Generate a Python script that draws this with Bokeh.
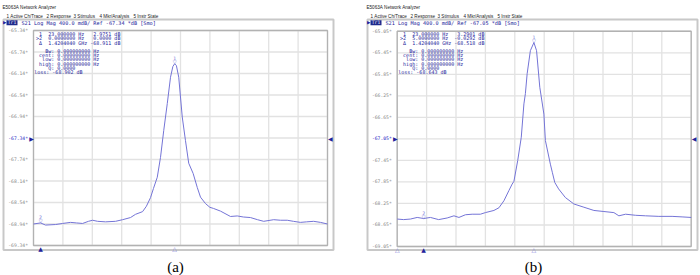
from bokeh.plotting import figure
from bokeh.models import Range1d
from bokeh.embed import file_html
from bokeh.resources import INLINE
from bokeh.core.properties import value

# ---------------- data ----------------
# x in horizontal grid divisions (0..10), y in dB
a_div = [0.00, 0.24, 0.41, 0.75, 0.99, 1.26, 1.46, 1.67, 1.87, 2.01, 2.18, 2.45, 2.79, 3.03,
         3.30, 3.47, 3.71, 3.84, 3.98, 4.08, 4.21, 4.32, 4.43, 4.55, 4.66, 4.74, 4.80, 4.86,
         4.94, 5.06, 5.17, 5.28, 5.43, 5.57, 5.68, 5.85, 6.00, 6.12, 6.36, 6.70, 6.93, 7.14,
         7.38, 7.62, 7.83, 8.17, 8.40, 8.63, 8.84, 9.08, 9.29, 9.53, 9.76, 10.00]
a_db = [-68.94, -68.92, -68.96, -68.95, -68.93, -68.91, -68.92, -68.93, -68.89, -68.87, -68.89,
        -68.90, -68.89, -68.86, -68.82, -68.76, -68.71, -68.61, -68.45, -68.28, -68.07, -67.70,
        -67.20, -66.70, -66.21, -66.01, -65.96, -65.99, -66.21, -66.95, -67.39, -67.81, -68.00,
        -68.26, -68.44, -68.56, -68.63, -68.65, -68.70, -68.80, -68.79, -68.81, -68.82, -68.86,
        -68.89, -68.86, -68.87, -68.87, -68.89, -68.91, -68.90, -68.89, -68.91, -68.94]

b_div = [0.00, 0.22, 0.45, 0.68, 0.90, 1.13, 1.41, 1.70, 1.93, 2.10, 2.32, 2.55, 2.83, 3.00,
         3.29, 3.46, 3.63, 3.80, 3.91, 3.97, 4.10, 4.22, 4.31, 4.36, 4.42, 4.53, 4.65, 4.74,
         4.85, 4.99, 5.04, 5.21, 5.28, 5.36, 5.49, 5.72, 6.01, 6.35, 6.69, 7.03, 7.37, 7.54,
         7.77, 8.11, 8.45, 8.90, 9.35, 9.69, 10.00]
b_db = [-68.54, -68.55, -68.54, -68.51, -68.53, -68.51, -68.55, -68.52, -68.48, -68.51, -68.46,
        -68.45, -68.45, -68.42, -68.38, -68.33, -68.20, -68.01, -67.89, -67.84, -67.45, -67.02,
        -66.40, -66.21, -65.84, -65.41, -65.26, -65.41, -66.09, -66.59, -67.08, -67.52, -67.68,
        -67.86, -67.98, -68.14, -68.26, -68.32, -68.38, -68.40, -68.42, -68.48, -68.45, -68.47,
        -68.48, -68.49, -68.49, -68.50, -68.51]

a_ticks = [-65.34, -65.74, -66.14, -66.54, -66.94, -67.34, -67.74, -68.14, -68.54, -68.94, -69.34]
a_tick_labels = ["-65.34*", "-65.74*", "-66.14*", "-66.54*", "-66.94*", "-67.34*", "-67.74*",
                 "-68.14*", "-68.54*", "-68.94*", "-69.34*"]
b_ticks = [-65.05, -65.45, -65.85, -66.25, -66.65, -67.05, -67.45, -67.85, -68.25, -68.65, -69.05]
b_tick_labels = ["-65.05*", "-65.45*", "-65.85*", "-66.25*", "-66.65*", "-67.05*", "-67.45*",
                 "-67.85*", "-68.25*", "-68.65*", "-69.05*"]
x_divs = [0, 1, 2, 3, 4, 5, 6, 7, 8, 9, 10]

a_ref = -67.34
b_ref = -67.05

# marker stimulus positions (divisions)
a_m1, a_m2 = 4.80, 0.24
b_m1, b_m2 = 4.65, 0.90
a_bottom_open = [4.80]
b_bottom_open = [0.00, 4.65]

a_header = "S21 Log Mag 400.0 mdB/ Ref -67.34 *dB [Smo]"
b_header = "S21 Log Mag 400.0 mdB/ Ref -67.05 *dB [Smo]"

a_marker_lines = [" 1  23.000000 Hz   2.9751 dB",
                  ">2  0.0000000 Hz   0.0000 dB",
                  " \u0394  1.4204040 GHz -68.911 dB",
                  "   Bw: 0.000000000 Hz",
                  " cent: 0.000000000 Hz",
                  "  low: 0.000000000 Hz",
                  " high: 0.000000000 Hz",
                  "    Q: 0.0000",
                  "loss: -68.902 dB"]
b_marker_lines = [" 1  23.000000 Hz   3.2901 dB",
                  ">2  5.0000000 Hz  -0.0292 dB",
                  " \u0394  1.4204040 GHz -68.518 dB",
                  "   Bw: 0.000000000 Hz",
                  " cent: 0.000000000 Hz",
                  "  low: 0.000000000 Hz",
                  " high: 0.000000000 Hz",
                  "    Q: 0.0000",
                  "loss: -68.643 dB"]

app_title = "E5063A Network Analyzer"
menu_items = ["1 Active Ch/Trace", "2 Response", "3 Stimulus", "4 Mkr/Analysis", "5 Instr State"]

# ---------------- layout / styles ----------------
W, H = 700, 275
TRACE = "#7474d6"
NAVY = "#22229a"
GRID = "#e2e2e2"
TICK = "#8a8a8a"
MONO = "DejaVu Sans Mono"
SANS = "Liberation Sans"
NBSP = "\u00a0"

menu_x = [6, 46, 73, 99, 133]
line_y = [33.3, 37.8, 42.2, 50.4, 54.6, 58.9, 63.1, 67.4, 71.7]
line_x = [35.6, 35.6, 35.6, 35.6, 35.6, 35.6, 35.6, 35.6, 33.8]

p = figure(width=W, height=H, output_backend="svg", toolbar_location=None,
           x_axis_location=None, y_axis_location=None,
           x_range=Range1d(0, W), y_range=Range1d(H, 0),
           min_border=0, min_border_left=0, min_border_right=0,
           min_border_top=0, min_border_bottom=0,
           background_fill_color="white", border_fill_color="white")
p.outline_line_color = None
p.grid.visible = False


def T(x, y, txt, size, color, font=MONO, align="left", **kw):
    # keep runs of spaces (monospace columns) by using non-breaking spaces
    p.text([x], [y], text=[txt.replace(" ", NBSP)], text_font=value(font), text_font_size=size,
           text_color=color, text_align=align, text_baseline="middle", **kw)


def panel(name, off, box, div, db, ticks, tick_labels, ref, m1, m2, bottom_open, header,
          mlines, caption, cap_x):
    left, right, top, bottom = box
    # ranges so that divisions 0..10 / ticks[0]..ticks[-1] fill the plot box
    xs = (right - left) / 10.0
    ys = (bottom - top) / (ticks[0] - ticks[-1])
    p.extra_x_ranges[name] = Range1d(-left / xs, (W - left) / xs)
    p.extra_y_ranges[name] = Range1d(ticks[-1] - (H - bottom) / ys, ticks[0] + top / ys)
    R = dict(x_range_name=name, y_range_name=name)

    # ---- instrument window chrome (pixel layout) ----
    p.quad(left=[off + 3], right=[off + 333], top=[19], bottom=[249.5],
           fill_color=None, line_color="#c8c8c8", line_width=2)
    T(off + 2, 7, app_title, "4.6px", "#222222", font=SANS)
    for mx, item in zip(menu_x, menu_items):
        T(off + mx, 15.5, item, "4.6px", "#222222", font=SANS)
    T(off + 2.5, 22.3, "\u25B6", "4.5px", NAVY, font="DejaVu Sans")
    p.quad(left=[off + 6], right=[off + 17], top=[19.8], bottom=[24.8],
           fill_color="#1e2a8c", line_color=None)
    T(off + 11.5, 22.4, "Tr1", "4.6px", "white", align="center")
    T(off + 21, 22.4, header, "5.2px", NAVY)

    # ---- grid and plot box ----
    p.segment(x0=x_divs, y0=[ticks[-1]] * len(x_divs), x1=x_divs, y1=[ticks[0]] * len(x_divs),
              line_color=GRID, line_width=1.3, **R)
    p.segment(x0=[x_divs[0]] * len(ticks), y0=ticks, x1=[x_divs[-1]] * len(ticks), y1=ticks,
              line_color=GRID, line_width=1.3, **R)
    p.quad(left=[x_divs[0]], right=[x_divs[-1]], top=[ticks[0]], bottom=[ticks[-1]],
           fill_color=None, line_color="#b2b2b2", line_width=1.3, **R)

    # ---- y tick labels ----
    nt = [t for t in ticks if t != ref]
    nl = [lab for t, lab in zip(ticks, tick_labels) if t != ref]
    p.text(x=[x_divs[0]] * len(nt), y=nt, text=nl, text_font=value(MONO), text_font_size="4.7px",
           text_color=TICK, text_align="right", text_baseline="middle", x_offset=-5.5, **R)
    p.text(x=[x_divs[0]], y=[ref], text=[tick_labels[ticks.index(ref)]], text_font=value(MONO),
           text_font_size="4.7px", text_color="#2a2ac4", text_align="right",
           text_baseline="middle", x_offset=-5.5, **R)
    # reference level arrows
    p.text(x=[x_divs[0]], y=[ref], text=["\u25B6"], text_font=value("DejaVu Sans"),
           text_font_size="6px", text_color=NAVY, text_align="right", text_baseline="middle",
           x_offset=0.3, **R)
    p.text(x=[x_divs[-1]], y=[ref], text=["\u25C0"], text_font=value("DejaVu Sans"),
           text_font_size="6px", text_color=NAVY, text_align="left", text_baseline="middle",
           x_offset=0.5, **R)

    # ---- marker readout ----
    for lx, ly, txt in zip(line_x, line_y, mlines):
        T(off + lx, ly, txt, "5px", NAVY)

    # ---- trace ----
    p.line(div, db, line_color=TRACE, line_width=1.0, **R)

    # markers on trace
    for mx, lab in ((m1, "1"), (m2, "2")):
        my = db[div.index(mx)]
        p.text([mx], [my], text=["\u25BD"], text_font=value("DejaVu Sans"), text_font_size="5px",
               text_color=TRACE, text_align="center", text_baseline="bottom", y_offset=1, **R)
        p.text([mx], [my], text=[lab], text_font=value("DejaVu Sans"), text_font_size="4.6px",
               text_color=TRACE, text_align="center", text_baseline="bottom", y_offset=-4, **R)

    # stimulus markers under the plot box
    p.text([m2], [ticks[-1]], text=["\u25B2"], text_font=value("DejaVu Sans"),
           text_font_size="6px", text_color=NAVY, text_align="center", text_baseline="middle",
           y_offset=3, **R)
    p.text(bottom_open, [ticks[-1]] * len(bottom_open), text=["\u25B3"] * len(bottom_open),
           text_font=value("DejaVu Sans"), text_font_size="6px", text_color=TRACE,
           text_align="center", text_baseline="middle", y_offset=3, **R)

    # caption
    T(cap_x, 266, caption, "15px", "black", font="Liberation Serif", align="center")


panel("a", 0, (33, 327, 30, 245), a_div, a_db, a_ticks, a_tick_labels, a_ref, a_m1, a_m2,
      a_bottom_open, a_header, a_marker_lines, "(a)", 175)
panel("b", 364, (396.7, 690.7, 30.75, 246), b_div, b_db, b_ticks, b_tick_labels, b_ref, b_m1,
      b_m2, b_bottom_open, b_header, b_marker_lines, "(b)", 533)

open("out.html", "w").write(file_html(p, INLINE))
